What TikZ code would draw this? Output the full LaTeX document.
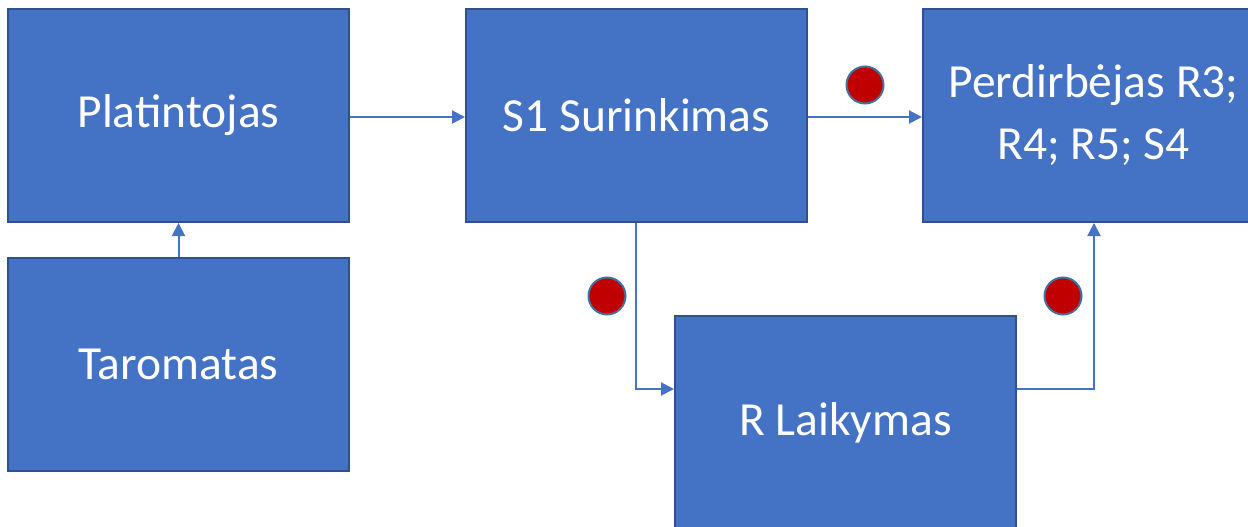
\documentclass[tikz,border=0pt]{standalone}
\usepackage{fontspec}
\setmainfont{Carlito}
\usetikzlibrary{arrows.meta}
\definecolor{boxfill}{HTML}{4472C4}
\definecolor{boxline}{HTML}{2F528F}
\definecolor{dotred}{HTML}{C00000}
\definecolor{dotline}{HTML}{41719C}
\tikzset{
  blockbox/.style={rectangle, draw=boxline, line width=2pt, fill=boxfill,
    minimum width=341pt, minimum height=213pt, inner sep=0pt,
    text=white, align=center, font=\fontsize{47.5}{62}\selectfont},
  link/.style={draw=boxfill, line width=2pt, -{Triangle[length=13pt,width=13pt]}},
  reddot/.style={circle, draw=dotline, line width=2pt, fill=dotred,
    minimum size=37pt, inner sep=0pt}
}
\begin{document}
\begin{tikzpicture}[x=1pt,y=-1pt]
\path[use as bounding box] (0,0) rectangle (1248,527);
\node[blockbox] (plat) at (178.5,115.5) {Platintojas};
\node[blockbox] (taro) at (178.5,364.5) {Taromatas};
\node[blockbox] (s1) at (636.5,115.5) {S1 Surinkimas};
\node[blockbox] (perd) at (1093.5,115.5) {Perdirbėjas R3;\\R4; R5; S4};
\node[blockbox] (rlai) at (845.5,422.5) {R Laikymas};
\node[reddot] (d1) at (865,85) {};
\node[reddot] (d2) at (607,296) {};
\node[reddot] (d3) at (1063,296) {};
\draw[link] (plat.east |- 0,117) -- (s1.west |- 0,117);
\draw[link] (taro.north) -- (plat.south);
\draw[link] (s1.east |- 0,117) -- (perd.west |- 0,117);
\draw[link] (s1.south -| 636,0) |- (rlai.west |- 0,389);
\draw[link] (rlai.east |- 0,389) -| (perd.south -| 1094,0);
\end{tikzpicture}
\end{document}
